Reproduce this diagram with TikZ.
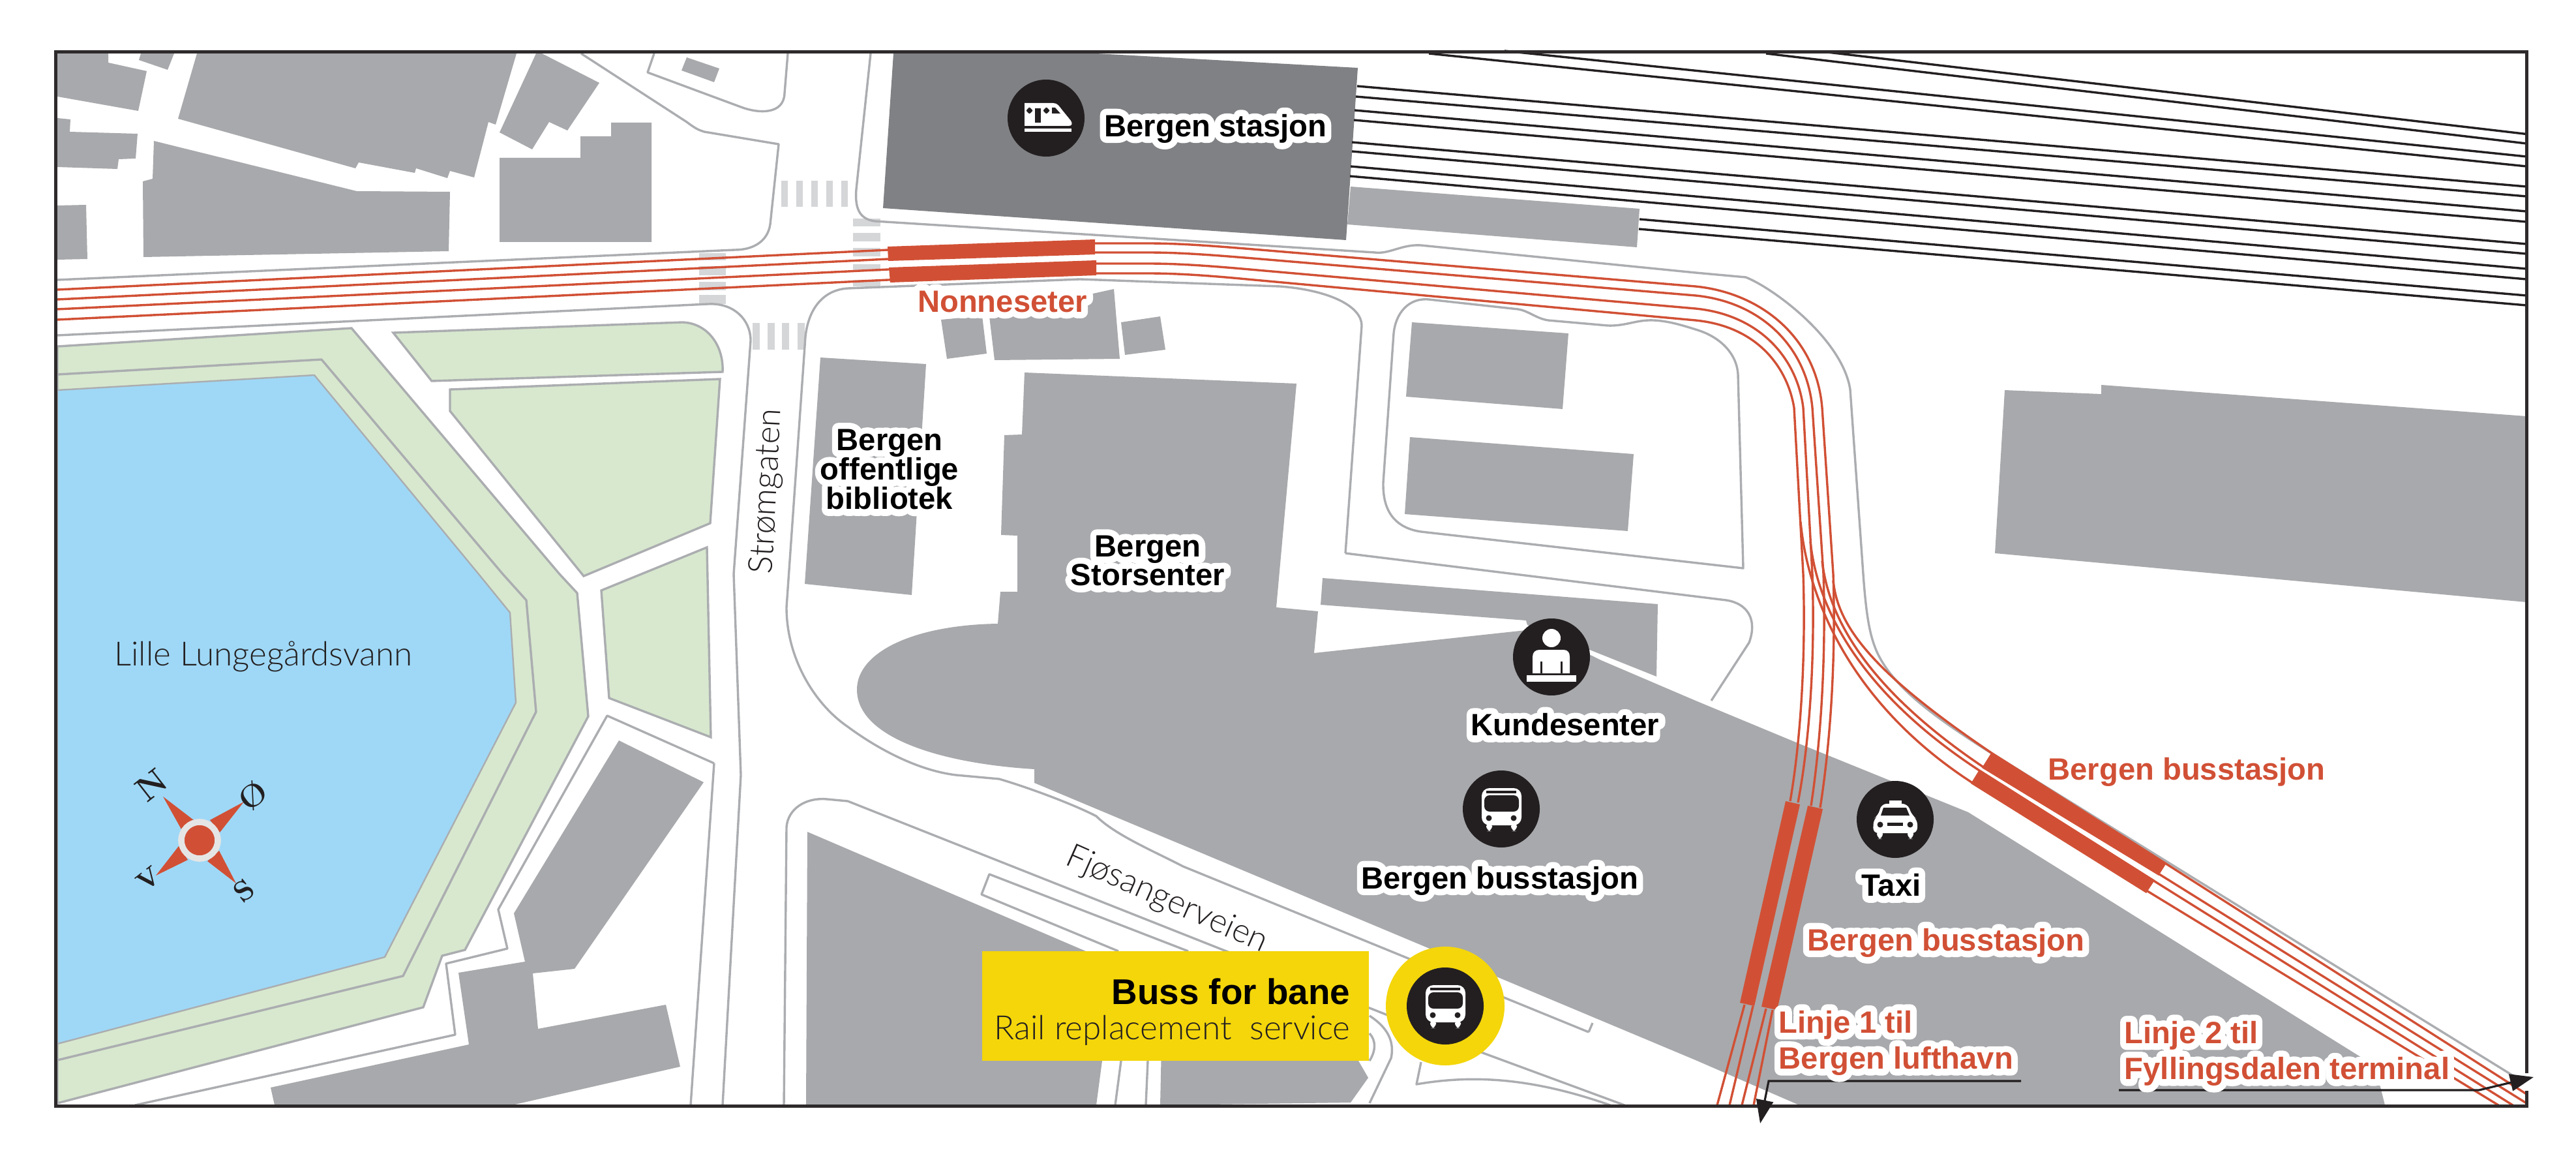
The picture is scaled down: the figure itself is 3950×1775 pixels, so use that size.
\documentclass[tikz,border=0pt]{standalone}
\usepackage{fontspec}
\usetikzlibrary{arrows.meta}
\newfontfamily\boldf[UprightFont=* Bold]{Liberation Sans}
\newfontfamily\halof[UprightFont=* Bold,FakeBold=42]{Liberation Sans}
\newfontfamily\lightf{Lato Light}
\newcommand{\halo}[1]{\leavevmode\special{pdf:code 1 j}\rlap{\color{white}\halof #1}#1}
\newcommand{\haloblock}[3][1]{\leavevmode\special{pdf:code 1 j}\def\arraystretch{#1}\rlap{\color{white}\halof\begin{tabular}{@{}#2@{}}#3\end{tabular}}\begin{tabular}{@{}#2@{}}#3\end{tabular}}
\definecolor{bgray}{HTML}{A8A9AC}
\definecolor{sgray}{HTML}{808184}
\definecolor{rgray}{HTML}{ABADB0}
\definecolor{zgray}{HTML}{D5D6D8}
\definecolor{mapred}{HTML}{D15035}
\definecolor{parkg}{HTML}{D7E8CE}
\definecolor{lake}{HTML}{9FD8F6}
\definecolor{ink}{HTML}{231F20}
\definecolor{yel}{HTML}{F4D60A}
\tikzset{
 bldg/.style={fill=bgray,draw=none},
 road/.style={draw=rgray,line width=0.85pt,line join=round},
 park/.style={fill=parkg,draw=rgray,line width=0.85pt,line join=miter},
 rail/.style={draw=mapred,line width=0.85pt},
 track/.style={draw=ink,line width=0.85pt},
 plat/.style={fill=mapred,draw=none},
 zebra/.style={fill=zgray,draw=none},
 iconbg/.style={circle,fill=ink,draw=none,inner sep=0pt,minimum size=29.5pt},
 ic/.style={fill=white,draw=none},
 icd/.style={fill=ink,draw=none},
 lab/.style={font=\boldf\fontsize{11.8}{11.2}\selectfont,text=black,align=center,inner sep=0pt},
 redlab/.style={lab,text=mapred},
 lablin/.style={redlab,font=\boldf\fontsize{11.8}{13.8}\selectfont,align=left,anchor=west},
 thin/.style={font=\lightf\fontsize{12.8}{15}\selectfont,text=ink,inner sep=0pt},
 cmp/.style={font=\bfseries\fontsize{13}{13}\selectfont,text=ink,inner sep=0pt,rotate=38},
 call/.style={draw=ink,line width=0.8pt,-{Triangle[length=9pt,width=6.5pt,fill=ink]}},
}
\begin{document}
\begin{tikzpicture}[x=0.25pt,y=-0.25pt]
\useasboundingbox (0,0) rectangle (3950,1775);
\fill[white] (0,0) rectangle (3950,1775);
% park and lake
\path[park] (88,531) -- (539,503) -- (858,880) -- (885,909) -- (902,1098) -- (713,1456) -- (678,1465) -- (649,1544) -- (88,1691) -- cycle;
\draw[road] (88,574) -- (493,551) -- (771,880) -- (807,920) -- (822,1091) -- (618,1496) -- (88,1625);
\path[fill=lake,draw=rgray,line width=0.6pt] (88,598) -- (482,575) -- (734,880) -- (782,939) -- (791,1077) -- (590,1467) -- (88,1600) -- cycle;
\path[park] (603,510) -- (1046,494) .. controls (1085,495) and (1110,530) .. (1108,570) -- (662,584) -- cycle;
\path[park] (690,597) -- (1104,581) -- (1089,802) -- (895,883) -- (690,630) -- cycle;
\path[park] (922,905) -- (1084,839) -- (1090,1130) -- (934,1070) -- cycle;
% buildings
\fill[bldg] (88,82) -- (166,82) -- (166,96) -- (225,109) -- (212,170) -- (88,148) -- cycle;
\fill[bldg] (216,82) -- (267,82) -- (257,107) -- (213,92) -- cycle;
\fill[bldg] (302,82) -- (792,82) -- (760,191) -- (749,187) -- (727,272) -- (690,262) -- (686,273) -- (638,258) -- (636,265) -- (550,249) -- (545,258) -- (273,182) -- cycle;
\fill[bldg] (822,82) -- (831,82) -- (919,127) -- (870,200) -- (842,187) -- (816,229) -- (766,203) -- cycle;
\fill[bldg] (88,181) -- (108,183) -- (107,202) -- (211,205) -- (208,243) -- (182,244) -- (180,259) -- (88,256) -- cycle;
\fill[bldg] (236,216) -- (547,293) -- (690,294) -- (688,385) -- (220,394) -- (219,278) -- (234,274) -- cycle;
\fill[bldg] (88,315) -- (132,314) -- (134,397) -- (88,398) -- cycle;
\fill[bldg] (766,242) -- (890,242) -- (890,209) -- (937,209) -- (937,188) -- (999,188) -- (999,371) -- (766,371) -- cycle;
\fill[bldg] (1053,88) -- (1103,105) -- (1095,126) -- (1045,108) -- cycle;
\fill[bldg] (1258,548) -- (1420,558) -- (1398,912) -- (1234,895) -- cycle;
\fill[bldg] (1443,490) -- (1506,484) -- (1513,542) -- (1452,550) -- cycle;
\fill[bldg] (1517,485) -- (1708,443) -- (1717,550) -- (1525,552) -- cycle;
\fill[bldg] (1719,494) -- (1779,485) -- (1787,536) -- (1725,544) -- cycle;
\fill[bldg] (2165,494) -- (2405,511) -- (2396,627) -- (2156,608) -- cycle;
\fill[bldg] (2162,670) -- (2505,696) -- (2496,814) -- (2154,788) -- cycle;
\fill[bldg] (3074,598) -- (3222,604) -- (3222,590) -- (3874,638) -- (3874,923) -- (3059,848) -- cycle;
\fill[bldg] (2028,886) -- (2542,926) -- (2540,1037) -- (2440,997) -- (2342,958) -- (2340,951) -- (2025,927) -- cycle;
\fill[bldg] (1571,571) -- (1988,588) -- (1957,931) -- (2021,937) -- (2015,1001) -- (2340,966) -- (2400,985) -- (2455,1012) -- (2600,1074) -- (2759,1140) -- (3018,1245) -- (3642,1634) -- (3657,1694) -- (2759,1694) -- (2600,1625) -- (1586,1200) -- (1586,1179) .. controls (1440,1170) and (1314,1130) .. (1314,1057) .. controls (1314,1000) and (1400,958) .. (1530,956) -- (1534,907) -- (1560,907) -- (1560,821) -- (1535,820) -- (1540,667) -- (1567,666) -- cycle;
\fill[bldg] (1238,1275) -- (1665,1458) -- (1700,1470) -- (1690,1626) -- (1681,1694) -- (1236,1694) -- cycle;
\fill[bldg] (1781,1600) -- (2083,1600) -- (2083,1626) -- (2098,1652) -- (2071,1690) -- (1779,1694) -- cycle;
\fill[bldg] (949,1135) -- (1079,1199) -- (881,1485) -- (817,1492) -- (825,1577) -- (1021,1540) -- (1043,1635) -- (785,1694) -- (421,1694) -- (415,1667) -- (719,1601) -- (703,1491) -- (805,1474) -- (788,1400) -- cycle;
% station
\fill[sgray] (1370,82) -- (1681,82) -- (2082,104) -- (2064,368) -- (1354,319) -- cycle;
\fill[bldg] (2071,286) -- (2514,320) -- (2510,379) -- (2066,344) -- cycle;
% zebra crossings
\foreach \xa in {1198,1221,1244,1267,1290} \fill[zebra] (\xa,277) rectangle ++(10,40);
\foreach \ya/\yb in {388/399,408/422,432/445,452/466} \fill[zebra] (1072,\ya) rectangle (1113,\yb);
\foreach \ya/\yb in {335/347,357/370,380/393,405/416,429/439} \fill[zebra] (1308,\ya) rectangle (1350,\yb);
\foreach \xa in {1154,1177,1199,1223} \fill[zebra] (\xa,495) rectangle ++(11,41);
% roads
\draw[road] (891,82) -- (1053,187) .. controls (1065,196) and (1070,199) .. (1080,202) -- (1194,221) -- (1181,344) .. controls (1177,370) and (1155,383) .. (1127,383) -- (88,429);
\draw[road] (1003,82) -- (993,111) -- (1136,164) .. controls (1165,175) and (1202,175) .. (1203,143) -- (1208,82);
\draw[road] (1335,82) -- (1313,290) .. controls (1310,325) and (1322,336) .. (1341,339) -- (2108,387) .. controls (2130,390) and (2150,374) .. (2179,376) -- (2600,418) -- (2677,425) .. controls (2720,442) and (2825,520) .. (2837,597) -- (2857,880) .. controls (2862,950) and (2868,975) .. (2877,997) .. controls (2900,1050) and (2960,1095) .. (3048,1151) -- (3857,1651);
\draw[road] (88,514) -- (1086,466) .. controls (1125,464) and (1151,490) .. (1151,522) -- (1125,880) -- (1136,1188) -- (1108,1694);
\draw[road] (1202,1694) -- (1206,1268) .. controls (1208,1240) and (1235,1222) .. (1268,1225) -- (1300,1228) -- (2274,1614) -- (2491,1694);
\draw[road] (2436,1582) -- (2442,1568);
\draw[road] (2063,848) -- (2647,920) .. controls (2680,925) and (2695,950) .. (2682,985) -- (2624,1074);
\draw[road] (2063,848) -- (2088,499) .. controls (2088,470) and (2040,445) .. (1963,439) -- (1656,428) -- (1300,442) .. controls (1265,444) and (1240,470) .. (1235,516) -- (1206,931) .. controls (1206,1010) and (1250,1080) .. (1300,1114) .. controls (1335,1140) and (1400,1180) .. (1466,1188) -- (1532,1194) .. controls (1570,1205) and (1640,1230) .. (1681,1251) .. controls (1710,1280) and (1770,1305) .. (1814,1328) -- (2436,1582);
\draw[road] (2673,871) -- (2665,574) .. controls (2663,540) and (2635,515) .. (2600,505) .. controls (2575,497) and (2550,490) .. (2527,491) .. controls (2505,492) and (2490,500) .. (2465,499) -- (2374,491) .. controls (2355,488) and (2345,477) .. (2328,474) -- (2191,459) .. controls (2160,456) and (2140,480) .. (2137,511) -- (2121,740) .. controls (2120,790) and (2145,810) .. (2179,815) -- cycle;
\draw[road] (1095,1170) -- (931,1097) -- (764,1394) -- (778,1454) -- (684,1477) -- (698,1586) -- (207,1694);
\draw[road] (1059,1694) -- (1095,1170);
\draw[road] (1715,1458) -- (1505,1371) -- (1517,1340) -- (1822,1458);
\draw[road] (2179,1628) -- (2172,1662) .. controls (2253,1648) and (2344,1650) .. (2469,1694);
\draw[road] (2100,1557) .. controls (2120,1570) and (2140,1590) .. (2133,1622) -- (2100,1691);
\draw[road] (2100,1584) .. controls (2110,1595) and (2110,1610) .. (2100,1626);
\draw[road] (1719,1626) -- (1710,1694);
\draw[road] (1760,1626) -- (1757,1694);
% black tracks
\draw[track] (2307,78) -- (3874,240);
\draw[track] (2191,82) -- (3874,255);
\draw[track] (2081,132) -- (3874,286);
\draw[track] (2079,148) -- (3874,301);
\draw[track] (2077,169) -- (3874,324);
\draw[track] (2076,184) -- (3874,340);
\draw[track] (2073,218) -- (3874,374);
\draw[track] (2073,232) -- (3874,389);
\draw[track] (2071,255) -- (3874,412);
\draw[track] (2070,270) -- (3874,428);
\draw[track] (2514,336) -- (3874,453);
\draw[track] (2513,351) -- (3874,468);
\draw[track] (2802,80) -- (3874,205.5);
\draw[track] (2708,82) -- (3874,220);
% red lines
\foreach \ya/\yb/\yc/\yd/\xa/\xb in {444/383/373/439/2794/2811,
  459/397/387/453/2779/2796,
  474/413/404/473/2765/2779,
  490/429/419/491/2751/2765}{
  \draw[rail] (88,\ya) -- (1362,\yb) -- (1680,\yc) -- (1760,\yc) .. controls (1810,\yc) and (1860,{\yc+4}) .. (1920,{\yc+(\yd-\yc)*0.135}) -- (2600,\yd) .. controls (2700,{\yd+10}) and ({\xa-9},{\yd+78}) .. (\xa,625) -- (\xb,880);
}
\draw[rail] (2811,880) .. controls (2815,1000) and (2808,1130) .. (2791,1238);
\draw[rail] (2796,880) .. controls (2800,1000) and (2793,1130) .. (2777,1235);
\draw[rail] (2779,880) .. controls (2783,1000) and (2776,1130) .. (2757,1230);
\draw[rail] (2765,880) .. controls (2769,1000) and (2762,1130) .. (2745,1228);
\draw[rail] (2718,1548) -- (2689,1694);
\draw[rail] (2708,1546) -- (2671,1694);
\draw[rail] (2688,1542) -- (2652,1694);
\draw[rail] (2675,1540) -- (2633,1694);
\draw[rail] (2811,890) .. controls (2818,960) and (2870,1030) .. (3055,1155) -- (3323,1325) -- (3874,1677);
\draw[rail] (2794,860) .. controls (2803,940) and (2855,1050) .. (3040,1175) -- (3311,1340) -- (3874,1691);
\draw[rail] (2776,830) .. controls (2786,930) and (2850,1060) .. (3035,1181) -- (3304,1351) -- (3853,1694);
\draw[rail] (2761,800) .. controls (2772,920) and (2840,1080) .. (3023,1199) -- (3293,1366) -- (3831,1694);
\fill[plat] (1361,378) -- (1679,367) -- (1679,390) -- (1362,400) -- cycle;
\fill[plat] (1363,410) -- (1681,399) -- (1681,422) -- (1365,433) -- cycle;
\fill[plat] (2738,1228) -- (2760,1233) -- (2690,1542) -- (2668,1537) -- cycle;
\fill[plat] (2772,1235) -- (2795,1240) -- (2725,1548) -- (2701,1543) -- cycle;
\fill[plat] (3054,1153) -- (3322,1323) -- (3310,1342) -- (3039,1177) -- cycle;
\fill[plat] (3035,1180) -- (3304,1349) -- (3291,1369) -- (3022,1201) -- cycle;
% compass
\fill[mapred] (250,1221) -- (297,1257) -- (278,1271) -- cycle;
\fill[mapred] (374,1229) -- (337,1276) -- (322,1257) -- cycle;
\fill[mapred] (362,1354) -- (318,1320) -- (336,1304) -- cycle;
\fill[mapred] (239,1342) -- (274,1297) -- (288,1318) -- cycle;
\fill[fill=mapred,draw=black!10,line width=2.4pt] (306,1288) circle (28);
\node[cmp] (cn) at (233,1203) {N};
\node[cmp,font=\bfseries\fontsize{12}{12}\selectfont] (ce) at (388,1220) {\O};
\node[cmp,font=\bfseries\fontsize{11}{11}\selectfont] (cs) at (374,1365) {S};
\node[cmp,font=\bfseries\fontsize{10}{10}\selectfont] (cw) at (228,1347) {V};
% icons
\node[iconbg] (trainc) at (1604,181) {};
\begin{scope}[shift={(1604,181)}]
\fill[ic] (-33,-23) -- (11,-23) .. controls (18,-23) and (20,-18) .. (25,-12) -- (38,4) .. controls (41,9) and (40,12) .. (34,12) -- (-33,12) -- cycle;
\fill[ic] (-33,16) rectangle (39,21);
\fill[icd,rounded corners=1.5] (-30,-16) rectangle (-21,-7);
\fill[icd] (-17,-15) rectangle (-8,7);
\fill[icd,rounded corners=1.5] (-4,-16) rectangle (5,-7);
\fill[icd] (9,-16) -- (14,-16) -- (22,-7) -- (9,-7) -- cycle;
\end{scope}
\node[iconbg] (deskc) at (2379,1007) {};
\begin{scope}[shift={(2379,1007)}]
\fill[ic] (0,-29) circle (14);
\fill[ic] (-29,25) -- (-29,0) .. controls (-29,-7) and (-25,-11) .. (-18,-11) -- (18,-11) .. controls (25,-11) and (28,-7) .. (28,0) -- (28,25) -- cycle;
\fill[icd] (-17,7) rectangle (-14,25);
\fill[icd] (14,7) rectangle (17,25);
\fill[ic] (-38,28) rectangle (38,38);
\end{scope}
\node[iconbg] (busc) at (2302,1240) {};
\begin{scope}[shift={(2302,1240)}]
\fill[ic,rounded corners=3] (-30,-32) rectangle (31,25);
\fill[ic,rounded corners=2] (-23,20) rectangle (-14,34);
\fill[ic,rounded corners=2] (15,20) rectangle (24,34);
\fill[icd] (-23,-28) rectangle (23,-24);
\fill[icd,rounded corners=2] (-26,-21) rectangle (27,4);
\fill[icd] (-19,14) circle (4.5);
\fill[icd] (19,14) circle (4.5);
\end{scope}
\node[iconbg] (taxic) at (2906,1256) {};
\begin{scope}[shift={(2906,1256)}]
\fill[ic] (-9,-29) rectangle (10,-22);
\fill[ic,rounded corners=2] (-21,-24) -- (19,-24) -- (26,-6) -- (34,0) -- (34,21) -- (-34,21) -- (-33,-1) -- (-26,-6) -- cycle;
\fill[ic,rounded corners=2] (-28,15) rectangle (-19,30);
\fill[ic,rounded corners=2] (19,15) rectangle (28,30);
\fill[icd] (-18,-18) -- (17,-18) -- (22,-6) -- (-22,-6) -- cycle;
\fill[icd] (-23,8) circle (4.5);
\fill[icd] (23,8) circle (4.5);
\fill[icd] (-12,5) rectangle (12,10);
\end{scope}
% yellow box and bus
\fill[yel] (1506,1458) rectangle (2099,1626);
\node[circle,fill=yel,inner sep=0pt,minimum size=45.5pt] (yelc) at (2216,1542) {};
\node[iconbg] (bfbc) at (2216,1542) {};
\begin{scope}[shift={(2216,1542)}]
\fill[ic,rounded corners=3] (-30,-32) rectangle (31,25);
\fill[ic,rounded corners=2] (-23,20) rectangle (-14,34);
\fill[ic,rounded corners=2] (15,20) rectangle (24,34);
\fill[icd] (-23,-28) rectangle (23,-24);
\fill[icd,rounded corners=2] (-26,-21) rectangle (27,4);
\fill[icd] (-19,14) circle (4.5);
\fill[icd] (19,14) circle (4.5);
\end{scope}
% frame
\draw[draw=ink!95,line width=1.25pt] (85,80) rectangle (3874,1695);
% callouts
\coordinate (l1a) at (3099,1657);
\coordinate (l1b) at (2712,1657);
\coordinate (l1c) at (2699,1722);
\coordinate (l2a) at (3249,1671);
\coordinate (l2b) at (3801,1671);
\coordinate (l2c) at (3885,1651);
\draw[white,line width=2.5pt] (2704,1680) -- (2700,1712);
\draw[white,line width=2.5pt] (3874,1645) -- (3874,1672);
\draw[call] (l1a) -- (l1b) -- (l1c);
\draw[call] (l2a) -- (l2b) -- (l2c);
% labels
\node[lab] (stasjon) at (1864,197) {\halo{Bergen stasjon}};
\node[redlab] (nonne) at (1537,462) {\halo{Nonneseter}};
\node[lab] (bibl) at (1364,725) {\haloblock[0.82]{c}{Bergen\\offentlige\\bibliotek}};
\node[lab] (stor) at (1760,865) {\haloblock[0.82]{c}{Bergen\\Storsenter}};
\node[lab] (kunde) at (2400,1111) {\halo{Kundesenter}};
\node[lab] (buss) at (2300,1350) {\halo{Bergen busstasjon}};
\node[lab] (taxi) at (2900,1357) {\halo{Taxi}};
\node[redlab] (bus1) at (3353,1183) {\halo{Bergen busstasjon}};
\node[redlab] (bus2) at (2984,1445) {\halo{Bergen busstasjon}};
\node[lablin] (lin1) at (2727,1600) {\haloblock{l}{Linje 1 til\\Bergen lufthavn}};
\node[lablin] (lin2) at (3257,1616) {\haloblock{l}{Linje 2 til\\Fyllingsdalen terminal}};
\node[lab,font=\boldf\fontsize{13.7}{15}\selectfont,anchor=east] (bfb) at (2071,1520) {Buss for bane};
\node[thin,anchor=east] (rail) at (2071,1579) {Rail replacement\ \ service};
\node[thin] (lille) at (404,1006) {Lille Lungegårdsvann};
\node[thin,rotate=87] (strom) at (1177,753) {Strømgaten};
\node[thin,rotate=-24] (fjos) at (1789,1380) {Fjøsangerveien};
\end{tikzpicture}
\end{document}
